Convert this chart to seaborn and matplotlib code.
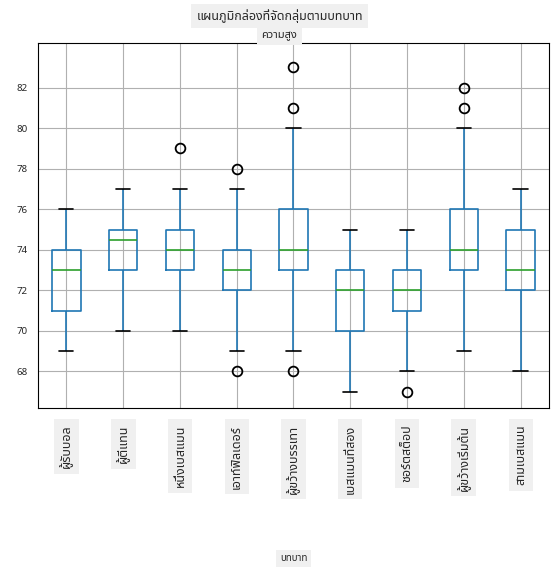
import matplotlib
matplotlib.use("Agg")
import matplotlib.pyplot as plt
import seaborn as sns
import pandas as pd

roles = ["ผู้รับบอล", "ผู้ตีแทน", "หนึ่งเบสแมน", "เอาท์ฟิลเดอร์", "ผู้ขว้างบรรเทา",
         "เบสแมนที่สอง", "ชอร์ตสต็อป", "ผู้ขว้างเริ่มต้น", "สามเบสแมน"]
heights = [
    [69, 70, 71, 72, 73, 73, 74, 75, 76],
    [70, 72, 73, 74, 74.5, 75, 75, 76, 77],
    [70, 71, 72, 73, 73, 74, 74, 74, 75, 75, 76, 77, 79],
    [68, 69, 71, 72, 72, 73, 73, 73, 74, 74, 76, 77, 78],
    [68, 69, 71, 73, 73, 74, 74, 75, 75, 76, 80, 81, 83],
    [67, 69, 70, 71, 72, 72, 73, 74, 75],
    [67, 68, 70, 71, 71, 72, 72, 72, 73, 73, 74, 75, 75],
    [69, 70, 72, 73, 73, 74, 74, 75, 75, 76, 80, 81, 82],
    [68, 70, 72, 72, 73, 74, 75, 76, 77],
]
title = "แผนภูมิกล่องที่จัดกลุ่มตามบทบาท"
subtitle = "ความสูง"
xlabel = "บทบาท"

rows = [(r, h) for r, hs in zip(roles, heights) for h in hs]
df = pd.DataFrame(rows, columns=["role", "height"])

sns.set_style("white")
fam = ["Noto Sans Thai", "Bai Jamjuree", "DejaVu Sans"]
plt.rcParams["font.family"] = fam
fig = plt.figure(figsize=(5.59, 5.73), dpi=100)
ax = fig.add_axes([0.068, 0.288, 0.914, 0.637])
blue = "#1f77b4"
sns.boxplot(data=df, x="role", y="height", order=roles, ax=ax, fill=False, width=0.5,
            boxprops=dict(color=blue, linewidth=1.2),
            whiskerprops=dict(color=blue, linewidth=1.2),
            capprops=dict(color="black", linewidth=1.2),
            medianprops=dict(color="#2ca02c", linewidth=1.2),
            flierprops=dict(marker="o", markerfacecolor="none", markeredgecolor="black",
                            markersize=7, markeredgewidth=1.3),
            showcaps=True)
ax.set_ylim(66.2, 84.2)
ax.set_xlim(-0.5, 8.5)
ax.set_yticks([68, 70, 72, 74, 76, 78, 80, 82])
ax.grid(True, color="#b0b0b0", linewidth=0.8)
ax.set_axisbelow(True)
for s in ax.spines.values():
    s.set_color("black")
ax.tick_params(axis="x", length=4, labelsize=9, pad=8)
ax.tick_params(axis="y", length=4, labelsize=7)
bb = dict(facecolor="#f0f0f0", edgecolor="none", pad=4)
for lab in ax.get_xticklabels():
    lab.set_rotation(90)
    lab.set_bbox(bb)
ax.set_xlabel(xlabel, fontsize=7, bbox=dict(facecolor="#f0f0f0", edgecolor="none", pad=3))
ax.xaxis.set_label_coords(0.5, -0.40)
ax.set_ylabel("")
fig.text(0.5, 0.972, title, ha="center", va="center", fontsize=9,
         bbox=dict(facecolor="#f0f0f0", edgecolor="none", pad=4))
fig.text(0.5, 0.938, subtitle, ha="center", va="center", fontsize=8,
         bbox=dict(facecolor="#f0f0f0", edgecolor="none", pad=3))
fig.savefig("out.png", dpi=100)
